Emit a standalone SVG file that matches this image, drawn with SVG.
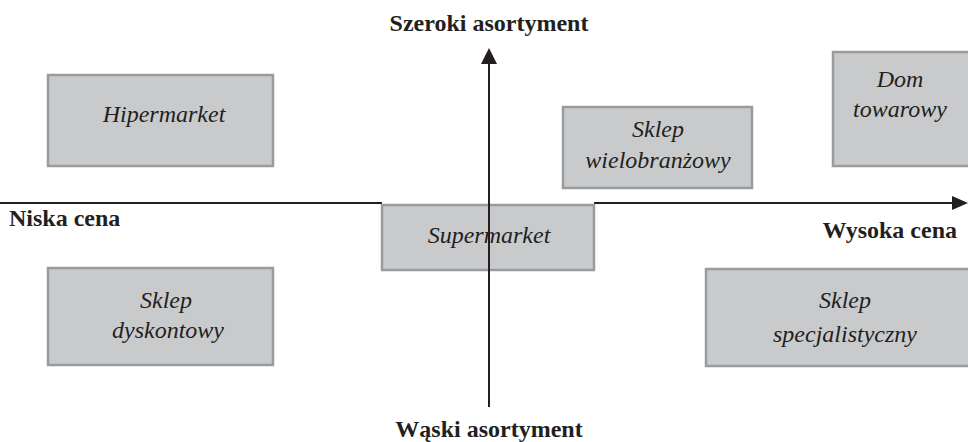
<svg xmlns="http://www.w3.org/2000/svg" width="968" height="442" viewBox="0 0 968 442">
<style>
.box{fill:#c9cacc;stroke:#9a9b9d;stroke-width:2.5}
.lbl{font-family:"Liberation Serif","DejaVu Serif",serif;font-style:italic;font-size:24px;fill:#231f20;text-anchor:middle}
.ax{font-family:"Liberation Serif","DejaVu Serif",serif;font-weight:bold;font-size:24px;fill:#231f20}
.axis{stroke:#231f20;stroke-width:2;fill:none}
</style>
<rect width="968" height="442" fill="#fff"/>
<g id="connectors">
<line class="axis" x1="0" y1="203" x2="382" y2="203"/>
<line class="axis" x1="594" y1="203" x2="954" y2="203"/>
<path d="M952,196 L968,203 L952,210 Z" fill="#231f20"/>
</g>
<g id="hipermarket"><rect class="box" x="48" y="75" width="225" height="91"/><text class="lbl" x="164" y="122">Hipermarket</text></g>
<g id="dyskontowy"><rect class="box" x="48" y="268" width="225" height="97"/><text class="lbl" x="166" y="308">Sklep</text><text class="lbl" x="168" y="338">dyskontowy</text></g>
<g id="supermarket"><rect class="box" x="382" y="205" width="212" height="65"/><text class="lbl" x="489" y="243">Supermarket</text></g>
<g id="wielobranzowy"><rect class="box" x="563" y="107" width="189" height="81"/><text class="lbl" x="658" y="137">Sklep</text><text class="lbl" x="658" y="168">wielobranżowy</text></g>
<g id="dom"><rect class="box" x="833" y="52" width="140" height="114"/><text class="lbl" x="900" y="87">Dom</text><text class="lbl" x="900" y="117">towarowy</text></g>
<g id="specjalistyczny"><rect class="box" x="706" y="269" width="265" height="97"/><text class="lbl" x="845" y="308">Sklep</text><text class="lbl" x="845" y="342">specjalistyczny</text></g>
<g id="axes">
<line class="axis" x1="489" y1="62" x2="489" y2="407"/>
<path d="M481,64 L489,48 L497,64 Z" fill="#231f20"/>
</g>
<text class="ax" x="489" y="31" text-anchor="middle">Szeroki asortyment</text>
<text class="ax" x="489" y="437" text-anchor="middle">Wąski asortyment</text>
<text class="ax" x="9" y="226">Niska cena</text>
<text class="ax" x="957" y="238" text-anchor="end">Wysoka cena</text>
</svg>
